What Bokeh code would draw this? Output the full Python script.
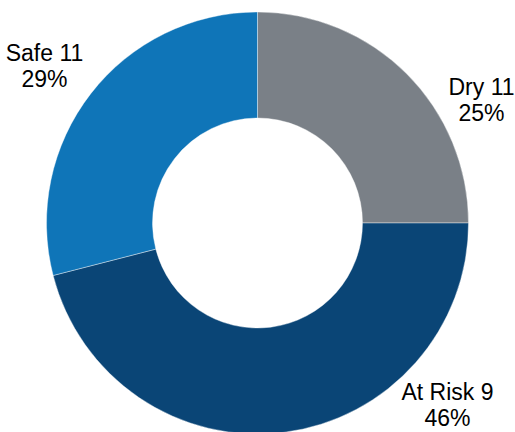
import math
from bokeh.plotting import figure
from bokeh.models import ColumnDataSource, Range1d
from bokeh.core.properties import value
from bokeh.embed import file_html
from bokeh.resources import INLINE

# Data
categories = ["Dry", "At Risk", "Safe"]
counts = [11, 9, 11]
percents = [25, 46, 29]
colors = ["#7A8087", "#0A4576", "#0F75B8"]

W, H = 515, 432
cx, cy = 257, H - 222.5
r_in, r_out = 105, 211

total = sum(percents)
starts, ends = [], []
acc = 0.0
for p in percents:
    starts.append(math.pi / 2 - 2 * math.pi * acc / total)
    acc += p
    ends.append(math.pi / 2 - 2 * math.pi * acc / total)

src = ColumnDataSource(dict(cat=categories, start=starts, end=ends, color=colors))

p = figure(width=W, height=H, output_backend="svg", toolbar_location=None,
           x_range=Range1d(0, W), y_range=Range1d(0, H), min_border=0)
p.axis.visible = False
p.grid.visible = False
p.outline_line_color = None
p.background_fill_color = "white"
p.border_fill_color = "white"

p.annular_wedge(x=cx, y=cy, inner_radius=r_in, outer_radius=r_out,
                inner_radius_units="screen", outer_radius_units="screen",
                start_angle="start", end_angle="end", direction="clock",
                fill_color="color", line_color="white", line_width=0.4, source=src)

# label anchors (layout), one per category
label_x = [481, 447, 44]
label_y = [H - 86, H - 391, H - 52]
line1 = [f"{c} {n}" for c, n in zip(categories, counts)]
line2 = [f"{v}%" for v in percents]

lsrc = ColumnDataSource(dict(x=label_x, y=label_y, t1=line1, t2=line2))
common = dict(text_font=value("Liberation Sans"), text_font_size="23px",
              text_color="#000000", text_align="center", source=lsrc)
p.text(x="x", y="y", text="t1", text_baseline="alphabetic", y_offset=0, **common)
p.text(x="x", y="y", text="t2", text_baseline="alphabetic", y_offset=26, **common)

open("out.html", "w").write(file_html(p, INLINE))
